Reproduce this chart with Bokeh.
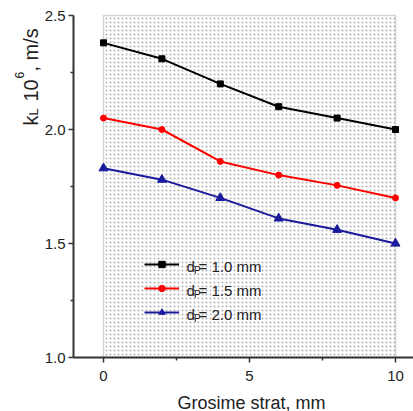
from math import pi
from bokeh.plotting import figure
from bokeh.models import (FixedTicker, PrintfTickFormatter, Range1d, BoxAnnotation,
                          Label, Legend, LegendItem)
from bokeh.embed import file_html
from bokeh.resources import INLINE

# ---- data ----
x_mm = [0, 2, 4, 6, 8, 10]
k_dp10 = [2.38, 2.31, 2.20, 2.10, 2.05, 2.00]
k_dp15 = [2.05, 2.00, 1.86, 1.80, 1.755, 1.70]
k_dp20 = [1.83, 1.78, 1.70, 1.61, 1.56, 1.50]
dp_labels = ["1.0", "1.5", "2.0"]
x_ticks = [0, 5, 10]
x_minor = [2.5, 7.5]
y_ticks = [1.0, 1.5, 2.0, 2.5]
y_minor = [1.25, 1.75, 2.25]
x_title = "Grosime strat, mm"

FONT = "Liberation Sans"
W, H = 413, 411

# layout: pixel positions of the axis extremes (canvas coords)
PX_X0, PX_X10 = 103.0, 395.0      # x = 0 and x = 10
PX_Y25, PX_Y10 = 15.0, 357.0      # y = 2.5 and y = 1.0
SPINE_PX = 73.0
sx = (PX_X10 - PX_X0) / (x_ticks[-1] - x_ticks[0])
sy = (PX_Y10 - PX_Y25) / (y_ticks[-1] - y_ticks[0])
x_lo = x_ticks[0] - PX_X0 / sx
x_hi = x_ticks[0] + (W - PX_X0) / sx
y_hi = y_ticks[-1] + PX_Y25 / sy
y_lo = y_ticks[0] - (H - PX_Y10) / sy
x_spine = x_ticks[0] - (PX_X0 - SPINE_PX) / sx

p = figure(width=W, height=H, output_backend="svg", toolbar_location=None,
           x_range=Range1d(x_lo, x_hi), y_range=Range1d(y_lo, y_hi),
           min_border_left=0, min_border_right=0, min_border_top=0,
           min_border_bottom=0)
p.title.visible = False
p.outline_line_color = None
p.grid.visible = False
p.background_fill_color = "white"
p.border_fill_color = "white"

# stippled panel
box = BoxAnnotation(left=x_ticks[0], right=x_ticks[-1], bottom=y_ticks[0], top=y_ticks[-1],
                    fill_alpha=0, hatch_pattern=".", hatch_scale=4, hatch_color="#666666",
                    hatch_alpha=0.5, hatch_weight=1, line_color="#777777", line_width=1.5,
                    level="underlay")
p.add_layout(box)

p.xaxis.fixed_location = y_ticks[0]
p.xaxis.bounds = (x_spine, x_hi)
p.yaxis.fixed_location = x_spine
p.yaxis.bounds = (y_ticks[0], y_ticks[-1])
p.xaxis.ticker = FixedTicker(ticks=x_ticks, minor_ticks=x_minor)
p.yaxis.ticker = FixedTicker(ticks=y_ticks, minor_ticks=y_minor)
p.yaxis.formatter = PrintfTickFormatter(format="%.1f")
for ax in (p.xaxis[0], p.yaxis[0]):
    ax.axis_line_width = 2
    ax.axis_line_color = "#333333"
    ax.major_tick_line_color = "#333333"
    ax.major_tick_line_width = 1.5
    ax.minor_tick_line_color = "#333333"
    ax.minor_tick_line_width = 1.5
    ax.major_tick_in = 0
    ax.major_tick_out = 5
    ax.minor_tick_in = 0
    ax.minor_tick_out = 3
    ax.major_label_text_font = FONT
    ax.major_label_text_font_size = "15px"
    ax.major_label_text_color = "#222222"
p.yaxis.major_label_standoff = 3
p.xaxis.major_label_standoff = 8

colors = ["#000000", "#ff0000", "#1a1a9c"]
markers = ["square", "circle", "triangle"]
sizes = [6, 6, 9]
items = []
for ys, c, m, sz in zip([k_dp10, k_dp15, k_dp20], colors, markers, sizes):
    lr = p.line(x_mm, ys, line_color=c, line_width=2)
    sr = p.scatter(x_mm, ys, marker=m, size=sz, fill_color=c, line_color=c)
    items.append(LegendItem(label=" ", renderers=[lr, sr]))

legend = Legend(items=items, location=(144, H - 322), orientation="vertical",
                glyph_width=35, glyph_height=16, label_width=0, label_height=20,
                label_standoff=0, spacing=4, padding=0, margin=0,
                border_line_color=None, background_fill_alpha=0,
                label_text_font_size="10px")
p.add_layout(legend)

def lab(text, cx, cy, size, **kw):
    p.add_layout(Label(x=cx, y=H - cy, x_units="screen", y_units="screen", text=text,
                       text_font=FONT, text_font_size=size, text_color="#222222",
                       text_baseline="alphabetic", **kw))

# legend texts with subscript P
for i, dl in enumerate(dp_labels):
    base = 266 + 24 * i
    lab("d", 186, base, "15px")
    lab("P", 193.5, base + 4, "10px")
    lab("= " + dl + " mm", 198, base, "15px")

# x axis title
lab(x_title, 251, 402, "18px", text_align="center")

# y axis title: k_L 10^6, m/s (rotated)
for t, fs, cx, cy in [("k", "20px", 30, 125), ("L", "13px", 33, 115),
                      ("10", "20px", 30, 101), ("6", "12px", 19, 78),
                      (", m/s", "20px", 30, 71)]:
    lab(t, cx, cy, fs, angle=pi / 2, text_align="left")

open("out.html", "w").write(file_html(p, INLINE))
